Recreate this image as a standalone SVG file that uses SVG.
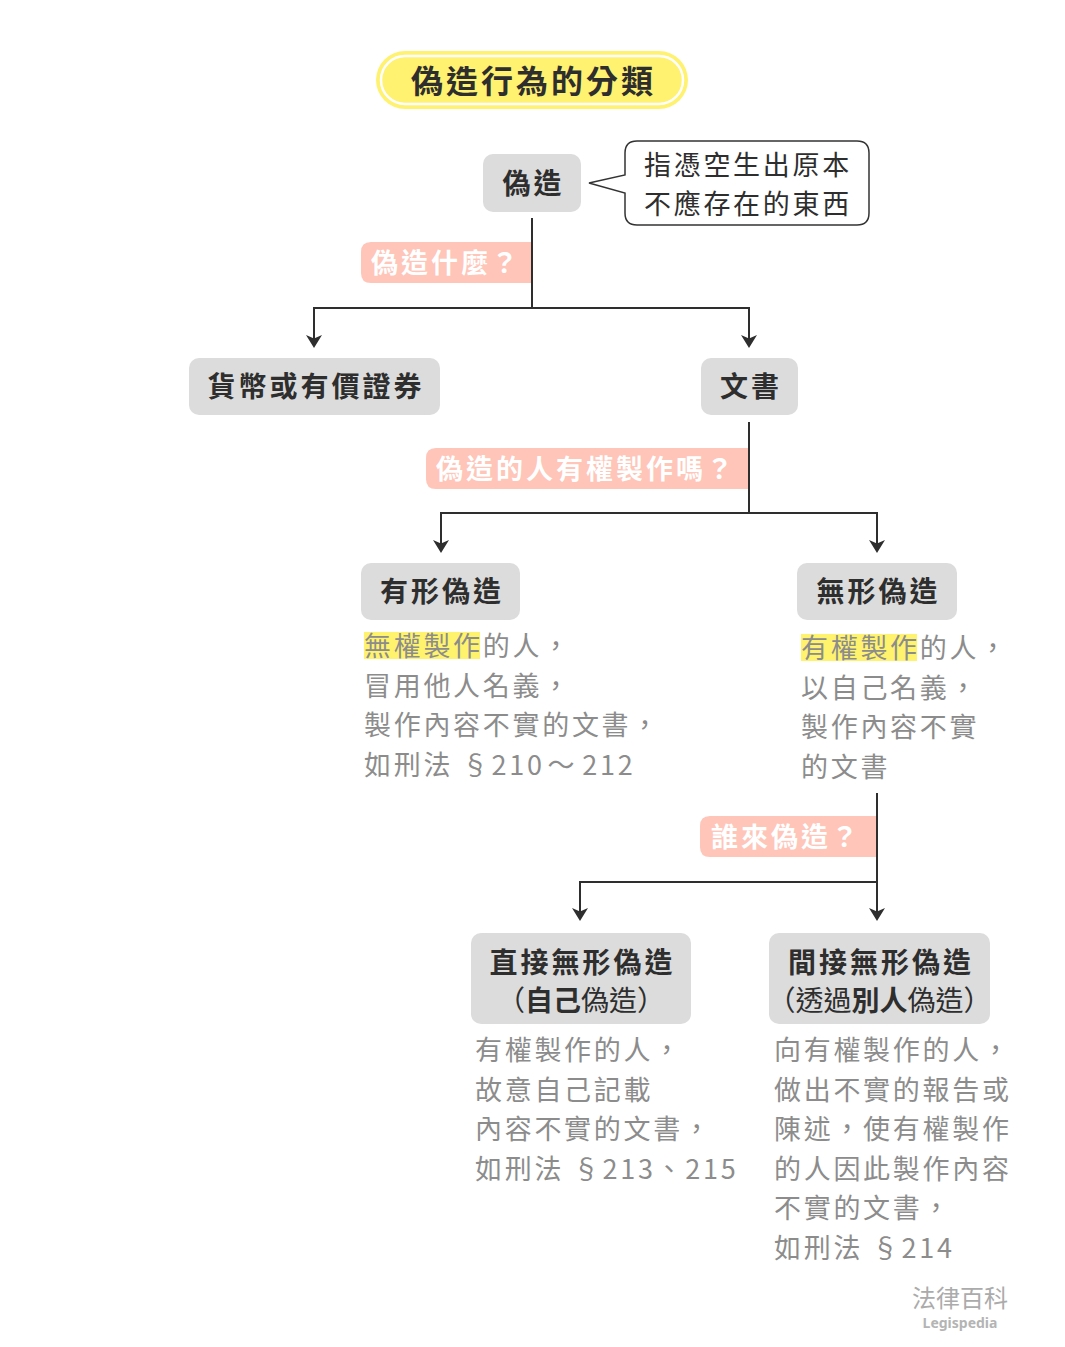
<svg xmlns="http://www.w3.org/2000/svg" width="1065" height="1347" viewBox="0 0 1065 1347">
<style>
text{font-family:"Noto Sans CJK TC","Noto Sans CJK SC",sans-serif;}
.box{fill:#dcdcdc;}
.lbl{font-size:28px;font-weight:700;fill:#2e2e2e;letter-spacing:3px;text-anchor:middle;}
.sub{font-size:28px;font-weight:400;fill:#2e2e2e;text-anchor:middle;}
.body{font-size:27px;fill:#8c8c8c;letter-spacing:2.7px;}
.q{fill:#fec5b8;}
.qt{font-size:27px;font-weight:700;fill:#ffffff;letter-spacing:3px;}
.hl{fill:#fff36e;}
.conn{fill:none;stroke:#2e2e2e;stroke-width:2;}
</style>
<defs>
<marker id="arr" markerUnits="userSpaceOnUse" viewBox="0 -9 14 18" refX="10" refY="0" markerWidth="14" markerHeight="18" orient="auto">
<path d="M0,-8 L13,0 L0,8 L3.5,0 Z" fill="#2e2e2e"/>
</marker>
</defs>
<rect width="1065" height="1347" fill="#ffffff"/>

<g id="title">
<rect x="376" y="51" width="312" height="58" rx="29" fill="#fff270"/>
<rect x="381" y="56" width="302" height="48" rx="24" fill="#fff270" stroke="#ffffff" stroke-width="2.5"/>
<text x="533.5" y="93" style="font-size:32px;font-weight:700;fill:#2e2e2e;letter-spacing:3px;text-anchor:middle">偽造行為的分類</text>
</g>

<g id="connectors">
<path class="conn" d="M532,218 V308"/>
<path class="conn" d="M532,308 H314 V345" marker-end="url(#arr)"/>
<path class="conn" d="M532,308 H749 V345" marker-end="url(#arr)"/>
<path class="conn" d="M749,422 V513"/>
<path class="conn" d="M749,513 H441 V550" marker-end="url(#arr)"/>
<path class="conn" d="M749,513 H877 V550" marker-end="url(#arr)"/>
<path class="conn" d="M877,793 V882"/>
<path class="conn" d="M877,882 H580 V918" marker-end="url(#arr)"/>
<path class="conn" d="M877,882 V918" marker-end="url(#arr)"/>
</g>

<g id="q1">
<path class="q" d="M531,242 V283 H371 Q361,283 361,273 V252 Q361,242 371,242 Z"/>
<text class="qt" x="371" y="273">偽造什麼？</text>
</g>
<g id="q2">
<path class="q" d="M748,448 V489 H436 Q426,489 426,479 V458 Q426,448 436,448 Z"/>
<text class="qt" x="436" y="479">偽造的人有權製作嗎？</text>
</g>
<g id="q3">
<path class="q" d="M876,816 V857 H710 Q700,857 700,847 V826 Q700,816 710,816 Z"/>
<text class="qt" x="711" y="847">誰來偽造？</text>
</g>

<g id="node-forgery">
<rect class="box" x="483" y="154" width="98" height="58" rx="10"/>
<text class="lbl" x="533.5" y="194">偽造</text>
</g>

<g id="note-forgery">
<path d="M637,141 H857 Q869,141 869,153 V213 Q869,225 857,225 H637 Q625,225 625,213 V193 L589,183 L625,175 V153 Q625,141 637,141 Z" fill="#ffffff" stroke="#333333" stroke-width="1.5"/>
<text x="644" y="175" style="font-size:27px;fill:#2e2e2e;letter-spacing:2.7px">指憑空生出原本</text>
<text x="644" y="214" style="font-size:27px;fill:#2e2e2e;letter-spacing:2.7px">不應存在的東西</text>
</g>

<g id="node-currency">
<rect class="box" x="189" y="358" width="251" height="57" rx="10"/>
<text class="lbl" x="316" y="397">貨幣或有價證券</text>
</g>

<g id="node-document">
<rect class="box" x="701" y="358" width="97" height="57" rx="10"/>
<text class="lbl" x="751" y="397">文書</text>
</g>

<g id="node-tangible">
<rect class="box" x="361" y="563" width="159" height="57" rx="10"/>
<text class="lbl" x="442" y="602">有形偽造</text>
<rect class="hl" x="364" y="632" width="116" height="27"/>
<text class="body" x="364" y="656">無權製作的人，</text>
<text class="body" x="364" y="696">冒用他人名義，</text>
<text class="body" x="364" y="735">製作內容不實的文書，</text>
<text class="body" x="364" y="775">如刑法 §210<tspan dx="3">～</tspan><tspan dx="5">212</tspan></text>
</g>

<g id="node-intangible">
<rect class="box" x="797" y="563" width="160" height="57" rx="10"/>
<text class="lbl" x="878.5" y="602">無形偽造</text>
<rect class="hl" x="801" y="634" width="116" height="27"/>
<text class="body" x="801" y="658">有權製作的人，</text>
<text class="body" x="801" y="698">以自己名義，</text>
<text class="body" x="801" y="737">製作內容不實</text>
<text class="body" x="801" y="777">的文書</text>
</g>

<g id="node-direct">
<rect class="box" x="471" y="933" width="220" height="91" rx="10"/>
<text class="lbl" x="582.5" y="973">直接無形偽造</text>
<text class="sub" x="581" y="1011">（<tspan font-weight="700">自己</tspan>偽造）</text>
<text class="body" x="475" y="1060">有權製作的人，</text>
<text class="body" x="475" y="1100">故意自己記載</text>
<text class="body" x="475" y="1139">內容不實的文書，</text>
<text class="body" x="475" y="1179">如刑法 §213、215</text>
</g>

<g id="node-indirect">
<rect class="box" x="769" y="933" width="221" height="91" rx="10"/>
<text class="lbl" x="881" y="973">間接無形偽造</text>
<text class="sub" x="879.5" y="1011">（透過<tspan font-weight="700">別人</tspan>偽造）</text>
<text class="body" x="774" y="1060">向有權製作的人，</text>
<text class="body" x="774" y="1100">做出不實的報告或</text>
<text class="body" x="774" y="1139">陳述，使有權製作</text>
<text class="body" x="774" y="1179">的人因此製作內容</text>
<text class="body" x="774" y="1218">不實的文書，</text>
<text class="body" x="774" y="1258">如刑法 §214</text>
</g>

<g id="logo">
<text x="960" y="1307" style="font-size:24px;fill:#ababab;text-anchor:middle">法律百科</text>
<text x="960" y="1328" style="font-size:14px;font-weight:700;fill:#b4b4b4;text-anchor:middle;font-family:'Noto Sans','Open Sans',sans-serif">Legispedia</text>
</g>
</svg>
